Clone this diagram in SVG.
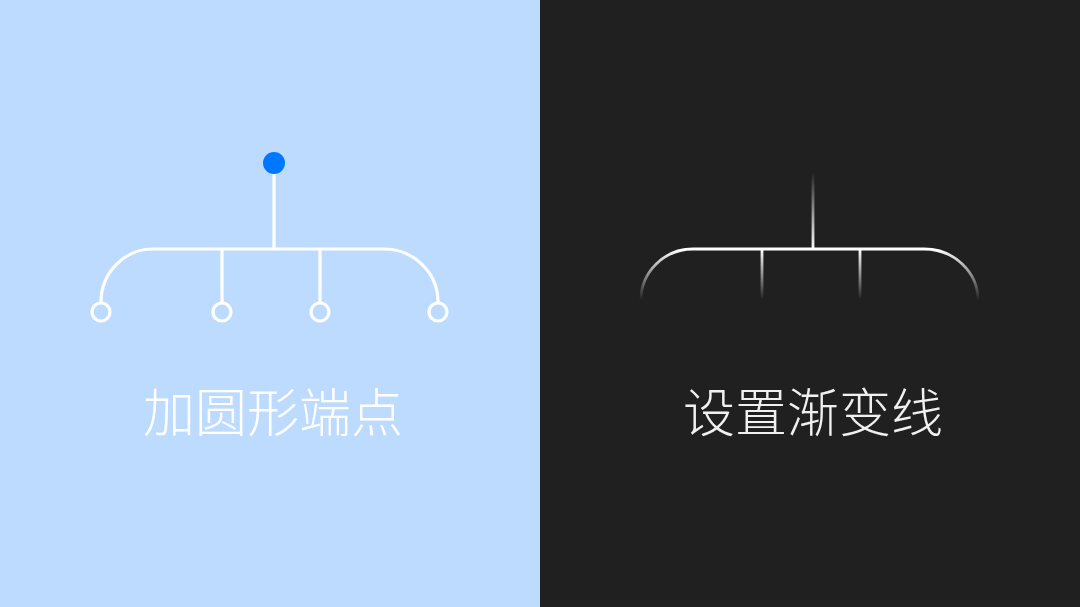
<svg xmlns="http://www.w3.org/2000/svg" width="1080" height="607" viewBox="0 0 1080 607">
<style>
.ln{fill:none;stroke:#fff;stroke-width:3.2}
.rl{fill:none;stroke-width:2.8}
.end{fill:none;stroke:#fff;stroke-width:3.2}
.lbl{font-family:"Noto Sans CJK SC","Noto Sans",sans-serif;font-weight:300;font-size:52px;text-anchor:middle}
</style>
<defs>
<linearGradient id="down" gradientUnits="userSpaceOnUse" x1="0" y1="249" x2="0" y2="300">
<stop offset="0" stop-color="#fff" stop-opacity="1"/>
<stop offset="1" stop-color="#fff" stop-opacity="0"/>
</linearGradient>
<linearGradient id="up" gradientUnits="userSpaceOnUse" x1="0" y1="172" x2="0" y2="249">
<stop offset="0" stop-color="#fff" stop-opacity="0"/>
<stop offset="1" stop-color="#fff" stop-opacity="1"/>
</linearGradient>
</defs>
<rect x="0" y="0" width="540" height="607" fill="#bddbff"/>
<rect x="540" y="0" width="540" height="607" fill="#202020"/>
<g id="connectors">
<path class="ln" d="M274 174V249M153 249H384M101 302A52 53 0 0 1 153 249M384 249A54 53 0 0 1 438 302M222 249V302M320 249V302"/>
<path class="rl" stroke="url(#up)" d="M813 172V249"/>
<path class="rl" stroke="#fff" d="M693 249H924"/>
<path class="rl" stroke="url(#down)" d="M641 300A52 51 0 0 1 693 249M924 249A54 51 0 0 1 978 300M762 249V298M860 249V298"/>
</g>
<g id="node-root-left"><circle cx="274" cy="163" r="11" fill="#0077ff"/></g>
<g id="node-end1"><circle class="end" cx="101" cy="312" r="9"/></g>
<g id="node-end2"><circle class="end" cx="222" cy="312" r="9"/></g>
<g id="node-end3"><circle class="end" cx="320" cy="312" r="9"/></g>
<g id="node-end4"><circle class="end" cx="438" cy="312" r="9"/></g>
<g id="label-left"><text class="lbl" x="273" y="432" fill="#fff">加圆形端点</text></g>
<g id="label-right"><text class="lbl" x="813" y="432" fill="#f0f0f0">设置渐变线</text></g>
</svg>
